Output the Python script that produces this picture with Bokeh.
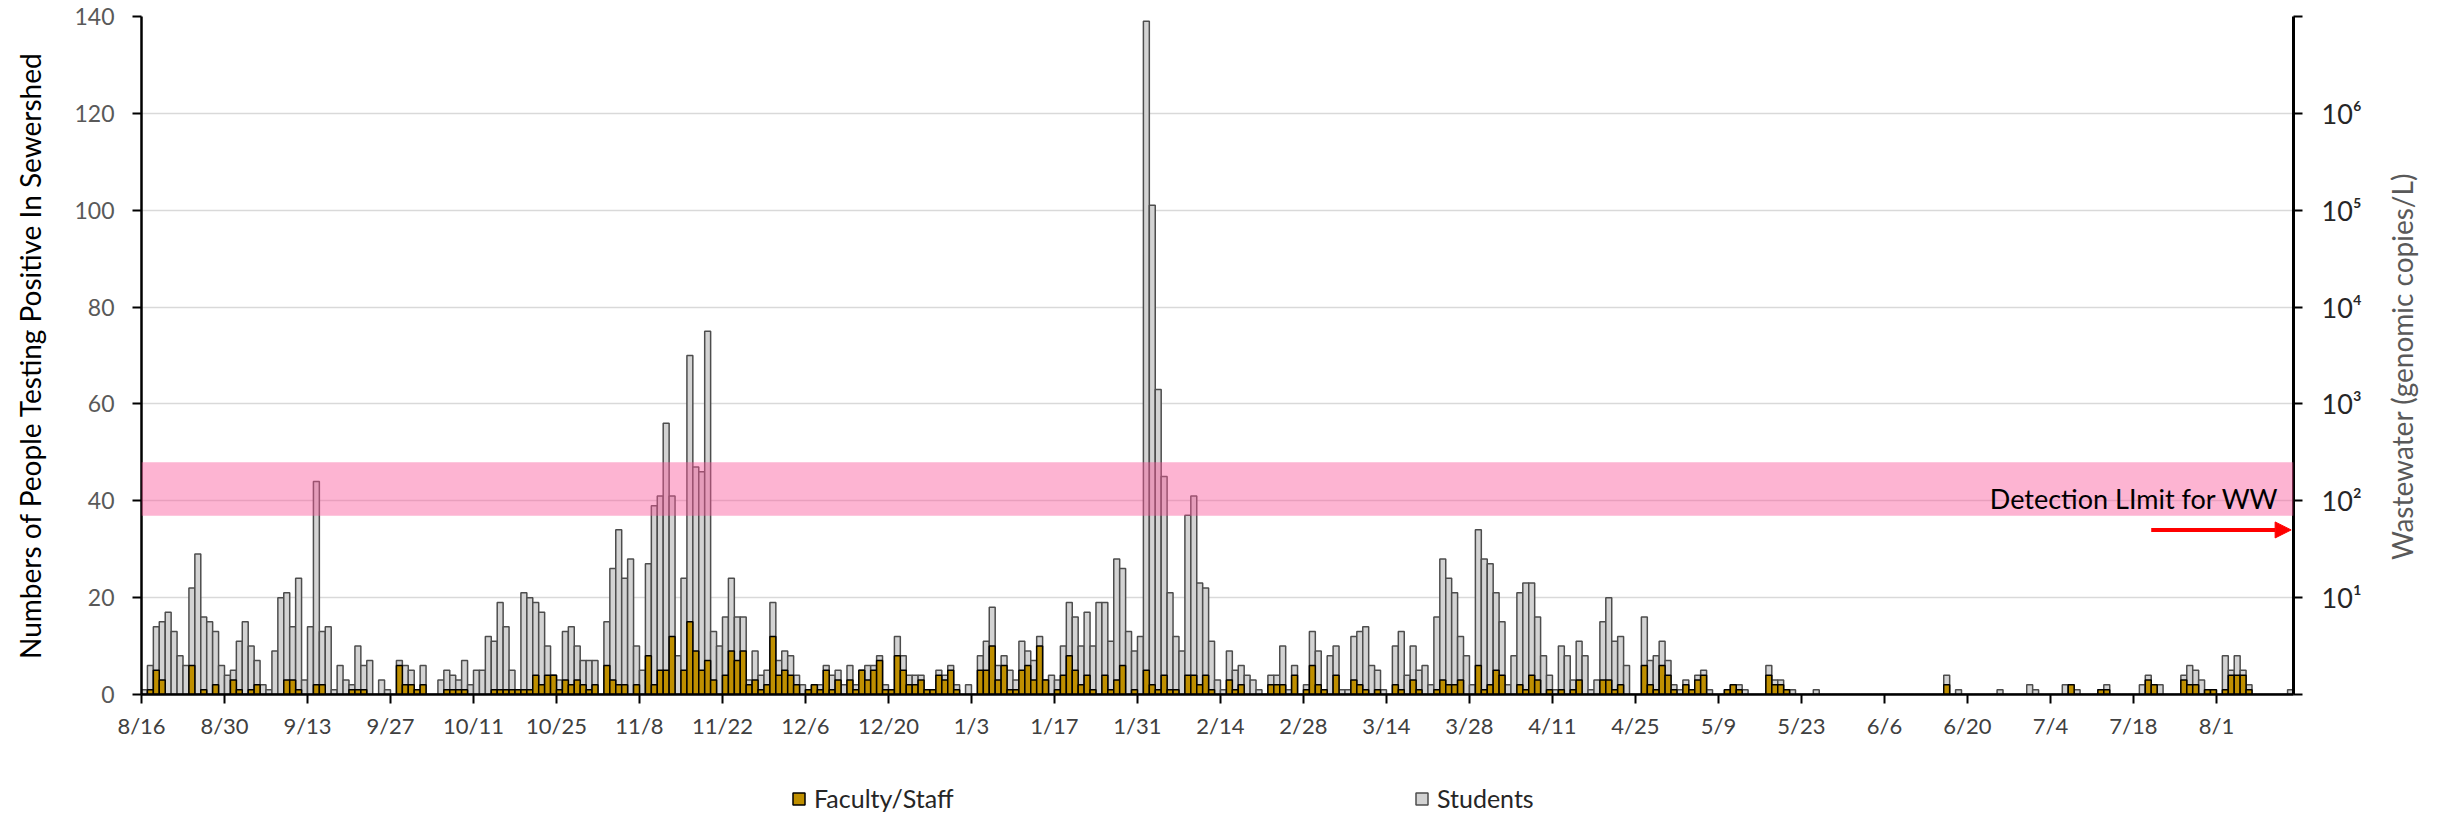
import math
from datetime import date, timedelta
from bokeh.plotting import figure
from bokeh.layouts import column, row
from bokeh.models import (Range1d, LogScale, LogAxis, FixedTicker, BoxAnnotation,
                          Label, Arrow, NormalHead, Legend, LegendItem, ColumnDataSource)
from bokeh.embed import file_html
from bokeh.resources import INLINE

# ---------------- data (one value per day, starting 8/16) ----------------
start_date = date(2020, 8, 16)

students = [
    1, 6, 14, 15, 17, 13, 8, 6, 22, 29, 16, 15, 13, 6,
    4, 5, 11, 15, 10, 7, 2, 1, 9, 20, 21, 14, 24, 3,
    14, 44, 13, 14, 1, 6, 3, 2, 10, 6, 7, 0, 3, 1,
    0, 7, 6, 5, 1, 6, 0, 0, 3, 5, 4, 3, 7, 2,
    5, 5, 12, 11, 19, 14, 5, 0, 21, 20, 19, 17, 10, 4,
    3, 13, 14, 10, 7, 7, 7, 0, 15, 26, 34, 24, 28, 10,
    5, 27, 39, 41, 56, 41, 8, 24, 70, 47, 46, 75, 13, 10,
    16, 24, 16, 16, 3, 9, 4, 5, 19, 7, 9, 8, 4, 2,
    1, 2, 2, 6, 4, 5, 2, 6, 2, 5, 6, 6, 8, 2,
    1, 12, 8, 4, 4, 4, 1, 1, 5, 4, 6, 2, 0, 2,
    0, 8, 11, 18, 6, 8, 5, 3, 11, 9, 7, 12, 3, 4,
    3, 10, 19, 16, 10, 17, 10, 19, 19, 11, 28, 26, 13, 9,
    12, 139, 101, 63, 45, 21, 12, 9, 37, 41, 23, 22, 11, 3,
    1, 9, 5, 6, 4, 3, 1, 0, 4, 4, 10, 1, 6, 0,
    2, 13, 9, 1, 8, 10, 1, 1, 12, 13, 14, 6, 5, 1,
    0, 10, 13, 4, 10, 5, 6, 2, 16, 28, 24, 21, 12, 8,
    2, 34, 28, 27, 21, 15, 2, 8, 21, 23, 23, 16, 8, 4,
    1, 10, 8, 3, 11, 8, 1, 3, 15, 20, 11, 12, 6, 0,
    0, 16, 7, 8, 11, 7, 2, 1, 3, 1, 4, 5, 1, 0,
    0, 1, 2, 2, 1, 0, 0, 0, 6, 3, 3, 1, 1, 0,
    0, 0, 1, 0, 0, 0, 0, 0, 0, 0, 0, 0, 0, 0,
    0, 0, 0, 0, 0, 0, 0, 0, 0, 0, 4, 0, 1, 0,
    0, 0, 0, 0, 0, 1, 0, 0, 0, 0, 2, 1, 0, 0,
    0, 0, 2, 2, 1, 0, 0, 0, 1, 2, 0, 0, 0, 0,
    0, 2, 4, 2, 2, 0, 0, 0, 4, 6, 5, 3, 1, 1,
    0, 8, 5, 8, 5, 2, 0, 0, 0, 0, 0, 0, 1,
]

faculty_staff = [
    0, 1, 5, 3, 0, 0, 0, 0, 6, 0, 1, 0, 2, 0,
    0, 3, 1, 0, 1, 2, 0, 0, 0, 0, 3, 3, 1, 0,
    0, 2, 2, 0, 0, 0, 0, 1, 1, 1, 0, 0, 0, 0,
    0, 6, 2, 2, 1, 2, 0, 0, 0, 1, 1, 1, 1, 0,
    0, 0, 0, 1, 1, 1, 1, 1, 1, 1, 4, 2, 4, 4,
    1, 3, 2, 3, 2, 1, 2, 0, 6, 3, 2, 2, 0, 2,
    0, 8, 2, 5, 5, 12, 0, 5, 15, 9, 5, 7, 3, 0,
    4, 9, 7, 9, 2, 3, 1, 2, 12, 4, 5, 4, 2, 0,
    1, 2, 1, 5, 1, 3, 0, 3, 1, 5, 3, 5, 7, 1,
    1, 8, 5, 2, 2, 3, 1, 1, 4, 3, 5, 1, 0, 0,
    0, 5, 5, 10, 3, 6, 1, 1, 5, 6, 3, 10, 3, 0,
    1, 4, 8, 5, 2, 4, 1, 0, 4, 1, 3, 6, 0, 1,
    0, 5, 2, 1, 4, 1, 1, 0, 4, 4, 2, 4, 1, 0,
    0, 3, 1, 2, 0, 0, 0, 0, 2, 2, 2, 0, 4, 0,
    1, 6, 2, 1, 0, 4, 0, 0, 3, 2, 1, 0, 1, 0,
    0, 2, 1, 0, 3, 1, 0, 0, 1, 3, 2, 2, 3, 0,
    0, 6, 1, 2, 5, 4, 0, 0, 2, 1, 4, 3, 0, 1,
    0, 1, 0, 1, 3, 0, 0, 0, 3, 3, 1, 2, 0, 0,
    0, 6, 2, 1, 6, 4, 1, 0, 2, 1, 3, 4, 0, 0,
    0, 1, 2, 1, 0, 0, 0, 0, 4, 2, 2, 1, 0, 0,
    0, 0, 0, 0, 0, 0, 0, 0, 0, 0, 0, 0, 0, 0,
    0, 0, 0, 0, 0, 0, 0, 0, 0, 0, 2, 0, 0, 0,
    0, 0, 0, 0, 0, 0, 0, 0, 0, 0, 0, 0, 0, 0,
    0, 0, 0, 2, 0, 0, 0, 0, 1, 1, 0, 0, 0, 0,
    0, 0, 3, 2, 0, 0, 0, 0, 3, 2, 2, 0, 1, 1,
    0, 1, 4, 4, 4, 1, 0, 0, 0, 0, 0, 0, 0,
]

tick_step_days = 14
left_ticks = [0, 20, 40, 60, 80, 100, 120, 140]
ww_ticks = [1, 10, 100, 1000, 10000, 100000, 1000000, 10000000]
ww_labels = {1: "", 10: "10¹", 100: "10²", 1000: "10³", 10000: "10⁴",
             100000: "10⁵", 1000000: "10⁶", 10000000: ""}
detection_band = (70, 250)      # genomic copies/L
detection_limit = 100
arrow_level = 50

# ---------------- derived ----------------
n_days = len(students)
day_pos = [i + 0.5 for i in range(n_days)]
tick_days = list(range(0, n_days, tick_step_days))
tick_labels = {}
for d in tick_days:
    dt = start_date + timedelta(days=d)
    tick_labels[d] = f"{dt.month}/{dt.day}"

src = ColumnDataSource(dict(x=day_pos, students=students, faculty=faculty_staff))

FONT = "Lato"
GRAY_FILL, GRAY_LINE = "#D3D3D3", "#4D4D4D"
GOLD_FILL, GOLD_LINE = "#BF8F00", "#000000"

# layout geometry (px)
TOTAL_W = 2440
LEFT, TOP = 141, 16
FRAME_W, FRAME_H = 2152, 679
MAIN_BOTTOM = 46
AXIS_RIGHT = 80
TITLE_W = TOTAL_W - LEFT - FRAME_W - AXIS_RIGHT
MAIN_H = TOP + FRAME_H + MAIN_BOTTOM

p = figure(width=LEFT + FRAME_W + AXIS_RIGHT, height=MAIN_H, output_backend="svg",
           toolbar_location=None, x_range=Range1d(0, n_days), y_range=Range1d(0, 140),
           min_border_left=LEFT, min_border_right=AXIS_RIGHT, min_border_top=TOP,
           min_border_bottom=MAIN_BOTTOM, outline_line_color=None)
p.background_fill_color = "white"

p.extra_y_ranges = {"ww": Range1d(1, 1e7)}
p.extra_y_scales = {"ww": LogScale()}

gray_r = p.vbar(x="x", top="students", width=1.0, source=src,
                fill_color=GRAY_FILL, line_color=GRAY_LINE, line_width=1.5)
gold_r = p.vbar(x="x", top="faculty", width=1.0, source=src,
                fill_color=GOLD_FILL, line_color=GOLD_LINE, line_width=1.5)

# grid
p.xgrid.grid_line_color = None
p.ygrid.ticker = FixedTicker(ticks=left_ticks)
p.ygrid.grid_line_color = "#D9D9D9"
p.ygrid.grid_line_width = 1.5

# x axis
xa = p.xaxis[0]
xa.ticker = FixedTicker(ticks=tick_days)
xa.major_label_overrides = tick_labels
xa.major_label_text_font = FONT
xa.major_label_text_font_size = "22px"
xa.major_label_text_color = "#404040"
xa.axis_line_color = "black"
xa.axis_line_width = 2.5
xa.major_tick_line_color = "black"
xa.major_tick_line_width = 2
xa.major_tick_out = 9
xa.major_tick_in = 0
xa.minor_tick_line_color = None
xa.major_label_standoff = 8

# left axis
ya = p.yaxis[0]
ya.ticker = FixedTicker(ticks=left_ticks)
ya.major_label_text_font = FONT
ya.major_label_text_font_size = "23px"
ya.major_label_text_color = "#595959"
ya.axis_line_color = "black"
ya.axis_line_width = 2.5
ya.major_tick_line_color = "black"
ya.major_tick_line_width = 2
ya.major_tick_out = 9
ya.major_tick_in = 0
ya.minor_tick_line_color = None
ya.major_label_standoff = 18
ya.axis_label = "Numbers of People Testing Positive In Sewershed"
ya.axis_label_text_font = FONT
ya.axis_label_text_font_size = "28px"
ya.axis_label_text_font_style = "normal"
ya.axis_label_text_color = "black"
ya.axis_label_standoff = 24

# right log axis (tick labels only; its title is set in the strip to the right)
ra = LogAxis(y_range_name="ww", ticker=FixedTicker(ticks=ww_ticks))
ra.major_label_overrides = ww_labels
ra.major_label_text_font = FONT
ra.major_label_text_font_size = "27px"
ra.major_label_text_color = "#262626"
ra.axis_line_color = "black"
ra.axis_line_width = 3
ra.major_tick_line_color = "black"
ra.major_tick_line_width = 2
ra.major_tick_out = 9
ra.major_tick_in = 0
ra.minor_tick_line_color = None
ra.major_label_standoff = 19
p.add_layout(ra, "right")

# detection limit band, label and arrow
band = BoxAnnotation(bottom=detection_band[0], top=detection_band[1], y_range_name="ww",
                     fill_color=(250, 88, 155), fill_alpha=0.45, line_color=None)
p.add_layout(band)
lbl = Label(x=n_days, y=detection_limit, y_range_name="ww", x_offset=-15, y_offset=2,
            text="Detection LImit for WW", text_align="right", text_baseline="alphabetic",
            text_font=FONT, text_font_size="27px", text_color="black")
p.add_layout(lbl)
arr = Arrow(x_start=n_days - 24, y_start=arrow_level, x_end=n_days - 0.4, y_end=arrow_level,
            y_range_name="ww", line_color="red", line_width=4,
            end=NormalHead(size=16, fill_color="red", line_color="red"))
p.add_layout(arr)

# ---------------- right title strip ----------------
tp = figure(width=TITLE_W, height=MAIN_H, output_backend="svg", toolbar_location=None,
            x_axis_location=None, y_axis_location=None, min_border_left=0,
            min_border_right=0, min_border_top=TOP, min_border_bottom=MAIN_BOTTOM,
            outline_line_color=None, x_range=Range1d(0, 1), y_range=Range1d(0, 140))
tp.grid.visible = False
tp.add_layout(Label(x=0.42, y=70, y_offset=-11, angle=math.pi / 2,
                    text="Wastewater (genomic copies/L)", text_align="center",
                    text_baseline="middle", text_font=FONT, text_font_size="28px",
                    text_color="#595959"))

# ---------------- legend strip below the chart ----------------
# hidden renderers only supply the legend swatches
lp = figure(width=TOTAL_W, height=75, output_backend="svg", toolbar_location=None,
            x_axis_location=None, y_axis_location=None, min_border_left=LEFT,
            min_border_right=TOTAL_W - LEFT - FRAME_W, min_border_top=0,
            min_border_bottom=0, outline_line_color=None,
            x_range=Range1d(0, n_days), y_range=Range1d(1000, 1001))
lp.grid.visible = False
lg_gold = lp.vbar(x="x", top="faculty", width=1, source=src, visible=False,
                  fill_color=GOLD_FILL, line_color=GOLD_LINE, line_width=1.5)
lg_gray = lp.vbar(x="x", top="students", width=1, source=src, visible=False,
                  fill_color=GRAY_FILL, line_color=GRAY_LINE, line_width=1.5)
legend = Legend(items=[LegendItem(label="Faculty/Staff", renderers=[lg_gold]),
                       LegendItem(label="Students", renderers=[lg_gray])],
                orientation="horizontal", location=(650, 3),
                glyph_width=15, glyph_height=15, label_standoff=8,
                label_width=600, spacing=0, padding=0, margin=0,
                border_line_color=None, background_fill_alpha=0,
                inactive_fill_alpha=0,
                label_text_font=FONT, label_text_font_size="25px",
                label_text_color="#262626")
lp.add_layout(legend)

layout = column(row(p, tp, spacing=0), lp, spacing=0)
open("out.html", "w").write(file_html(layout, INLINE))
